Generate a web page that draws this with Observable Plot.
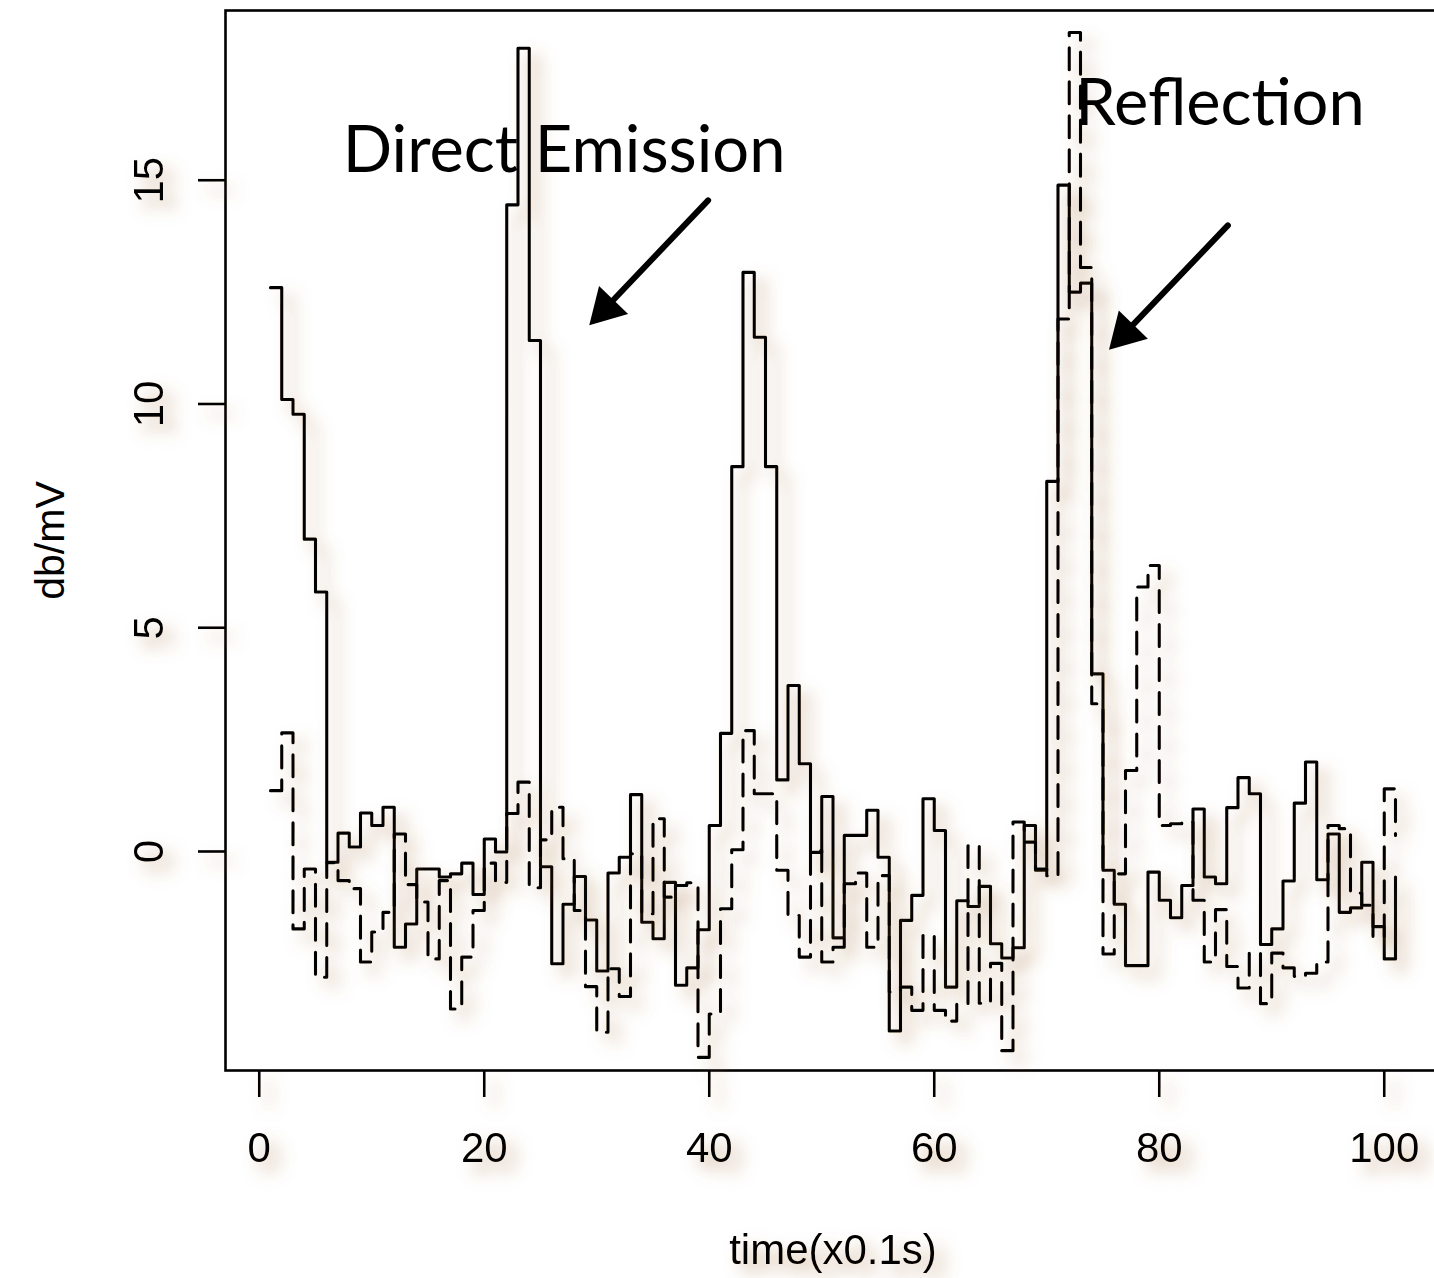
<!DOCTYPE html>
<html>
<head>
<meta charset="utf-8">
<script src="https://cdn.jsdelivr.net/npm/d3@7"></script>
<script src="https://cdn.jsdelivr.net/npm/@observablehq/plot@0.6"></script>
<style>
  html, body { margin: 0; padding: 0; background: #fff; }
  #chart svg { display: block; }
</style>
</head>
<body>
<div id="chart"></div>
<script>
// ---- data ----
const time = d3.range(1, 102); // sample index, x0.1 s

const directEmission = [
  12.6, 10.1, 9.77, 6.98, 5.8, -0.24, 0.41, 0.10, 0.86, 0.58,
  0.99, -2.14, -1.62, -0.39, -0.39, -0.57, -0.50, -0.26, -0.96, 0.28,
  -0.01, 14.45, 17.95, 11.42, -0.34, -2.51, -1.18, -0.56, -1.53, -2.67,
  -0.48, -0.13, 1.27, -1.58, -1.95, -0.69, -2.99, -2.60, -1.75, 0.58,
  2.64, 8.6, 12.94, 11.49, 8.6, 1.60, 3.71, 1.96, -0.02, 1.23,
  -1.93, 0.36, 0.36, 0.92, -0.13, -4.01, -1.54, -0.98, 1.18, 0.47,
  -3.03, -1.10, -1.23, -0.78, -2.06, -2.38, -2.15, 0.58, -0.42, 8.27,
  14.89, 12.5, 12.7, 3.97, -0.42, -1.18, -2.55, -2.55, -0.46, -1.09,
  -1.48, -0.76, 0.95, -0.57, -0.72, 0.98, 1.65, 1.29, -2.08, -1.73,
  -0.66, 1.08, 2.0, -0.63, 0.39, -1.36, -1.26, -0.24, -1.68, -2.40,
  -0.57
];

const reflection = [
  1.36, 2.65, -1.73, -0.39, -2.81, -0.25, -0.65, -0.83, -2.47, -1.80,
  -1.36, 0.39, -0.74, -1.13, -2.40, -0.65, -3.52, -2.36, -1.32, -0.26,
  -0.69, 0.85, 1.55, -0.81, 0.26, 0.99, -0.16, -1.32, -3.02, -4.04,
  -2.62, -3.24, -0.05, -1.39, 0.73, -1.02, -0.76, -0.70, -4.6, -3.63,
  -1.28, 0.04, 2.70, 1.29, 1.29, -0.42, -1.43, -2.36, 0.02, -2.47,
  -2.14, -0.72, -0.48, -2.14, -0.54, -3.14, -3.03, -3.55, -1.88, -3.55,
  -3.79, -3.40, 0.13, -3.39, -2.50, -4.45, 0.66, 0.21, -0.39, -0.54,
  11.9, 18.3, 13.05, 3.3, -2.29, -0.50, 1.81, 5.91, 6.39, 0.58,
  0.62, 0.66, -1.09, -2.47, -1.30, -2.57, -3.05, -2.27, -3.40, -2.27,
  -2.60, -2.79, -2.72, -2.47, 0.58, 0.51, -0.93, -1.2, -1.91, 1.40,
  0.36
];

const xTicks = [0, 20, 40, 60, 80, 100];
const yTicks = [0, 5, 10, 15];

const labelTexts = ["Direct Emission", "Reflection"];
const labelX = [27.1, 85.4];
const labelY = [15.66, 16.7];

const arrowFromX = [39.9, 86.1];
const arrowFromY = [14.55, 13.99];
const arrowToX = [29.3, 75.5];
const arrowToY = [11.75, 11.2];

// ---- tables built from the arrays ----
const rows = time.map((t, i) => ({t, direct: directEmission[i], refl: reflection[i]}));
const labels = labelTexts.map((text, i) => ({text, x: labelX[i], y: labelY[i]}));
const arrows = arrowFromX.map((x1, i) => ({x1, y1: arrowFromY[i], x2: arrowToX[i], y2: arrowToY[i]}));

const axisFont = "'Liberation Sans', Arial, Helvetica, sans-serif";

const chart = Plot.plot({
  width: 1434,
  height: 1278,
  marginLeft: 225,
  marginRight: -6,
  marginTop: 10,
  marginBottom: 208,
  x: {domain: [-3, 105]},
  y: {domain: [-4.894, 18.793]},
  style: {fontFamily: axisFont, background: "white", color: "black"},
  marks: [
    Plot.frame({stroke: "black", strokeWidth: 2.6}),
    Plot.line(rows, {x: "t", y: "direct", curve: "step-after", stroke: "black", strokeWidth: 3.1}),
    Plot.line(rows, {x: "t", y: "refl", curve: "step-after", stroke: "black", strokeWidth: 3.1, strokeDasharray: "22,12"}),
    Plot.axisX({ticks: xTicks, tickSize: 27, tickPadding: 35, fontSize: 42, strokeWidth: 2.6, label: null, tickFormat: d => String(d)}),
    Plot.axisY({ticks: yTicks, tickSize: 27, tickFormat: () => "", label: null, strokeWidth: 2.6}),
    Plot.text(yTicks, {y: d => d, text: d => String(d), frameAnchor: "left", dx: -76, rotate: -90, fontSize: 42, textAnchor: "middle", lineAnchor: "middle"}),
    Plot.text(["time(x0.1s)"], {frameAnchor: "bottom", dy: 180, fontSize: 42, textAnchor: "middle", lineAnchor: "middle"}),
    Plot.text(["db/mV"], {frameAnchor: "left", dx: -175, rotate: -90, fontSize: 41, textAnchor: "middle", lineAnchor: "middle"}),
    // annotations (no shadow)
    Plot.text(labels, {x: "x", y: "y", text: "text", fontSize: 65, fontFamily: "Lato, 'Open Sans', sans-serif", lineAnchor: "middle", fill: "black"}),
    Plot.arrow(arrows, {x1: "x1", y1: "y1", x2: "x2", y2: "y2", stroke: "black", strokeWidth: 6, headLength: 0, insetEnd: 22}),
    Plot.dot(arrows, {x: "x2", y: "y2", symbol: "triangle", r: 15, rotate: 224, dx: 16.6, dy: -17.3, fill: "black", stroke: "none"})
  ]
});

// Soft brown drop shadow on the R-plot parts (not the annotations)
const ns = "http://www.w3.org/2000/svg";
const defs = document.createElementNS(ns, "defs");
defs.innerHTML = `<filter id="rshadow" filterUnits="userSpaceOnUse" x="0" y="0" width="1434" height="1278">
  <feDropShadow dx="10" dy="10" stdDeviation="8" flood-color="rgb(165,115,60)" flood-opacity="0.55"/>
</filter>`;
chart.insertBefore(defs, chart.firstChild);
const groups = Array.from(chart.children).filter(el => el.tagName.toLowerCase() === "g");
groups.slice(0, 8).forEach(g => g.setAttribute("filter", "url(#rshadow)"));

document.getElementById("chart").appendChild(chart);
</script>
</body>
</html>
